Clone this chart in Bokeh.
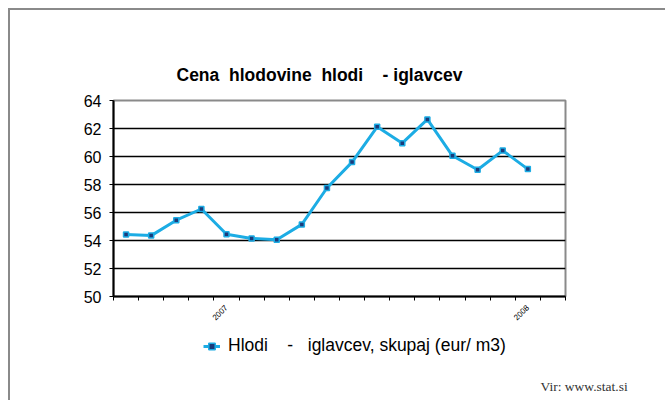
from bokeh.plotting import figure
from bokeh.layouts import column
from bokeh.models import (Range1d, FixedTicker, Legend, LegendItem, Label,
                          ColumnDataSource)
from bokeh.embed import file_html
from bokeh.resources import INLINE
from math import pi

# ---- data ----
periods = ["2006-09", "2006-10", "2006-11", "2006-12", "2007-01", "2007-02",
           "2007-03", "2007-04", "2007-05", "2007-06", "2007-07", "2007-08",
           "2007-09", "2007-10", "2007-11", "2007-12", "2008-01"]
values = [54.43, 54.35, 55.45, 56.25, 54.45, 54.15, 54.05, 55.15, 57.75,
          59.6, 62.12, 60.95, 62.65, 60.05, 59.05, 60.42, 59.1]
n_slots = 18  # one empty trailing slot on the axis
year_labels = {"2007-01": "2007", "2008-01": "2008"}
y_ticks = [50, 52, 54, 56, 58, 60, 62, 64]

NB = "\u00a0"
title_text = "Cena" + NB * 2 + "hlodovine" + NB * 2 + "hlodi" + NB * 4 + "-" + NB + "iglavcev"
legend_text = "Hlodi" + NB * 4 + "-" + NB * 3 + "iglavcev, skupaj (eur/ m3)"
source_text = "Vir: www.stat.si"

xs = [i + 0.5 for i in range(len(periods))]
src = ColumnDataSource(dict(x=xs, y=values, period=periods))

W = 655
line_color = "#1CACE4"
marker_fill = "#1a3a7a"

# ---------- title strip ----------
H_TOP = 80
ft = figure(width=W, height=H_TOP, output_backend="svg", toolbar_location=None,
            x_range=Range1d(0, 1), y_range=Range1d(0, 1),
            x_axis_type=None, y_axis_type=None, min_border=0, frame_align=False)
ft.outline_line_color = None
ft.grid.visible = False
ft.background_fill_color = "white"
ft.border_fill_color = "white"
ft.add_layout(Label(x=166, y=16, x_units="screen", y_units="screen",
                    text=title_text, text_align="left", text_baseline="middle",
                    text_font="Liberation Sans", text_font_style="bold",
                    text_font_size="17.5px", text_color="black"))

# ---------- main chart ----------
H_MAIN = 240
p = figure(width=W, height=H_MAIN, output_backend="svg", toolbar_location=None,
           x_range=Range1d(0, n_slots), y_range=Range1d(50, 64),
           min_border_left=103, min_border_right=100,
           min_border_top=10, min_border_bottom=34, frame_align=False)
p.title = None
p.background_fill_color = "white"
p.border_fill_color = "white"
p.outline_line_color = "#8a8a8a"
p.outline_line_width = 2

p.xgrid.grid_line_color = None
p.ygrid.ticker = FixedTicker(ticks=y_ticks[1:-1])
p.ygrid.grid_line_color = "black"
p.ygrid.grid_line_width = 1.5

p.yaxis.ticker = FixedTicker(ticks=y_ticks)
p.yaxis.axis_line_color = "black"
p.yaxis.axis_line_width = 2
p.yaxis.major_tick_out = 4
p.yaxis.major_tick_in = 0
p.yaxis.major_tick_line_color = "black"
p.yaxis.minor_tick_line_color = None
p.yaxis.major_label_text_font = "Liberation Sans"
p.yaxis.major_label_text_font_size = "16px"
p.yaxis.major_label_text_color = "black"
p.yaxis.major_label_standoff = 8

label_pos = [periods.index(k) + 0.5 for k in year_labels]
p.xaxis.ticker = FixedTicker(ticks=label_pos, minor_ticks=list(range(n_slots + 1)))
p.xaxis.major_label_overrides = {periods.index(k) + 0.5: v for k, v in year_labels.items()}
p.xaxis.major_label_orientation = pi / 4
p.xaxis.axis_line_color = "black"
p.xaxis.axis_line_width = 2
p.xaxis.major_tick_line_color = None
p.xaxis.minor_tick_line_color = "black"
p.xaxis.minor_tick_out = 4
p.xaxis.minor_tick_in = 0
p.xaxis.major_label_text_font = "Liberation Sans"
p.xaxis.major_label_text_font_size = "8px"
p.xaxis.major_label_text_color = "black"
p.xaxis.major_label_standoff = 4

p.line("x", "y", source=src, line_color=line_color, line_width=3)
p.scatter("x", "y", source=src, marker="square", size=5,
          fill_color=marker_fill, line_color=line_color, line_width=1.5)

# ---------- legend + source strip ----------
H_BOT = 70
fb = figure(width=W, height=H_BOT, output_backend="svg", toolbar_location=None,
            x_range=Range1d(-1000, -999), y_range=Range1d(-1000, -999),
            x_axis_type=None, y_axis_type=None, min_border=0, frame_align=False)
fb.outline_line_color = None
fb.grid.visible = False
fb.background_fill_color = "white"
fb.border_fill_color = "white"
# same series, outside this strip's ranges: only its legend sample shows
lb = fb.line("x", "y", source=src, line_color=line_color, line_width=3)
sb = fb.scatter("x", "y", source=src, marker="square", size=5,
                fill_color=marker_fill, line_color=line_color, line_width=1.5)
legend = Legend(items=[LegendItem(label=legend_text, renderers=[lb, sb])],
                location=(193, 44), orientation="horizontal",
                border_line_color=None, background_fill_alpha=0,
                padding=0, margin=0, glyph_width=17, glyph_height=16,
                label_standoff=8, label_text_font="Liberation Sans",
                label_text_font_size="17.5px", label_text_color="black")
fb.add_layout(legend, "center")
fb.add_layout(Label(x=530, y=14, x_units="screen", y_units="screen",
                    text=source_text, text_align="left", text_baseline="alphabetic",
                    text_font="Liberation Serif", text_font_size="13.5px",
                    text_color="#333333"))

layout = column(ft, p, fb, spacing=0)
layout.styles = {"margin-left": "8px", "margin-top": "8px",
                 "border-top": "2px solid #8a8a8a", "border-left": "2px solid #8a8a8a"}

open("out.html", "w").write(file_html(layout, INLINE))
